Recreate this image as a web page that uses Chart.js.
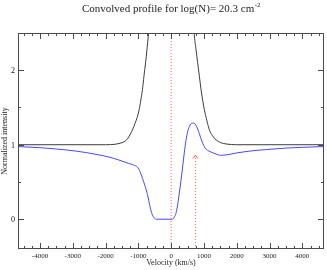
<!DOCTYPE html>
<html>
<head>
<meta charset="utf-8">
<script src="https://cdn.jsdelivr.net/npm/chart.js@4"></script>
<style>
  body { margin: 0; background: #fff; }
  canvas { display: block; }
</style>
</head>
<body>
<canvas id="profileChart" width="327" height="270"></canvas>
<script>
// convolved profile (blue)
const convVelocity = [-4670, -4000, -3200, -2600, -2200, -1900, -1600, -1300, -1150, -1030, -950, -875, -800, -722, -650, -600, -540, -480, -450, 0, 40, 100, 147, 200, 248, 300, 349, 400, 453, 500, 554, 600, 654, 710, 758, 810, 859, 910, 960, 1030, 1113, 1250, 1370, 1500, 1700, 2000, 2400, 2900, 3500, 4000, 4660];
const convIntensity = [0.975, 0.96, 0.93, 0.895, 0.863, 0.835, 0.796, 0.75, 0.728, 0.70, 0.64, 0.55, 0.45, 0.33, 0.18, 0.09, 0.03, 0.005, 0, 0, 0, 0.03, 0.08, 0.2, 0.35, 0.52, 0.70, 0.89, 1.06, 1.17, 1.245, 1.28, 1.29, 1.285, 1.26, 1.21, 1.15, 1.08, 1.02, 0.96, 0.925, 0.895, 0.875, 0.858, 0.865, 0.89, 0.915, 0.935, 0.955, 0.965, 0.975];

// inverse profile (black)
const invVelocity = [-4670, -2000, -1690, -1560, -1434, -1330, -1229, -1170, -1100, -1040, -976, -925, -875, -830, -780, -740, -690, -620, -550, 560, 630, 700, 760, 808, 860, 911, 960, 1012, 1090, 1165, 1260, 1370, 1500, 1676, 2000, 4660];
const invIntensity = [1.0, 1.0, 1.007, 1.02, 1.04, 1.08, 1.156, 1.21, 1.29, 1.36, 1.47, 1.6, 1.74, 1.92, 2.10, 2.27, 2.5, 3.0, 3.6, 3.6, 3.0, 2.5, 2.27, 2.10, 1.92, 1.74, 1.6, 1.47, 1.32, 1.20, 1.12, 1.065, 1.03, 1.01, 1.0, 1.0];

// markers
const zeroLine = [0, 0];
const zeroLineY = [-0.4, 2.5];
const arrowVelocity = [740, 740];
const arrowY = [-0.4, 0.86];

const xTicks = [-4000, -3000, -2000, -1000, 0, 1000, 2000, 3000, 4000];
const yTicks = [0, 1, 2];

function toPoints(xs, ys) {
  return xs.map((x, i) => ({ x: x, y: ys[i] }));
}

const serif = "'Liberation Serif', 'Times New Roman', serif";
const axisColor = "#4a4a4a";
const red = "rgba(255, 70, 70, 0.85)";

// grace style box with inward ticks on all four sides
const frameTicks = {
  id: "frameTicks",
  afterDraw(chart) {
    const c = chart.ctx;
    const a = chart.chartArea;
    const xs = chart.scales.x;
    const ys = chart.scales.y;
    c.save();
    c.strokeStyle = axisColor;
    c.lineWidth = 1;
    c.strokeRect(a.left + 0.5, a.top + 0.5, a.right - a.left - 1, a.bottom - a.top - 1);
    c.beginPath();
    for (let v = -4500; v <= 4500; v += 250) {
      const px = Math.round(xs.getPixelForValue(v)) + 0.5;
      const len = v % 1000 === 0 ? 6 : 3;
      c.moveTo(px, a.bottom);
      c.lineTo(px, a.bottom - len);
      c.moveTo(px, a.top);
      c.lineTo(px, a.top + len);
    }
    for (let v = 0; v <= 2; v += 0.5) {
      const py = Math.round(ys.getPixelForValue(v)) + 0.5;
      const len = v % 1 === 0 ? 6 : 3;
      c.moveTo(a.left, py);
      c.lineTo(a.left + len, py);
      c.moveTo(a.right, py);
      c.lineTo(a.right - len, py);
    }
    c.stroke();

    // y tick labels
    c.fillStyle = "#111";
    c.font = "8px " + serif;
    c.textAlign = "right";
    c.textBaseline = "middle";
    yTicks.forEach((v) => {
      c.fillText(String(v), a.left - 3, Math.round(ys.getPixelForValue(v)) + 0.5);
    });

    // arrow head
    const ax = Math.round(xs.getPixelForValue(arrowVelocity[1])) + 0.5;
    const ay = ys.getPixelForValue(arrowY[1]);
    c.strokeStyle = red;
    c.beginPath();
    c.moveTo(ax - 2.5, ay + 3.5);
    c.lineTo(ax, ay);
    c.lineTo(ax + 2.5, ay + 3.5);
    c.stroke();

    // title with superscript
    const main = "Convolved profile for log(N)= 20.3 cm";
    const sup = "-2";
    c.fillStyle = "#222";
    c.textBaseline = "alphabetic";
    c.font = "11px " + serif;
    const w1 = c.measureText(main).width;
    c.font = "7px " + serif;
    const w2 = c.measureText(sup).width;
    const x0 = (a.left + a.right) / 2 - (w1 + w2) / 2;
    c.font = "11px " + serif;
    c.textAlign = "left";
    c.fillText(main, x0, 12);
    c.font = "7px " + serif;
    c.fillText(sup, x0 + w1 + 0.5, 7);
    c.restore();
  },
};

const ctx = document.getElementById("profileChart").getContext("2d");

const profileChart = new Chart(ctx, {
  type: "line",
  data: {
    datasets: [
      {
        label: "zero",
        data: toPoints(zeroLine, zeroLineY),
        borderColor: red,
        borderWidth: 1,
        borderDash: [1, 2],
        pointRadius: 0,
      },
      {
        label: "arrow",
        data: toPoints(arrowVelocity, arrowY),
        borderColor: red,
        borderWidth: 1,
        borderDash: [1, 2],
        pointRadius: 0,
      },
      {
        label: "inverse",
        data: toPoints(invVelocity, invIntensity),
        borderColor: "#3c3c3c",
        borderWidth: 1,
        pointRadius: 0,
        cubicInterpolationMode: "monotone",
      },
      {
        label: "convolved",
        data: toPoints(convVelocity, convIntensity),
        borderColor: "#4646ff",
        borderWidth: 1,
        pointRadius: 0,
        cubicInterpolationMode: "monotone",
      },
    ],
  },
  options: {
    responsive: false,
    animation: false,
    devicePixelRatio: 1,
    layout: {
      padding: { left: 0, top: 33, right: 3, bottom: 0 },
    },
    plugins: {
      legend: { display: false },
      tooltip: { enabled: false },
    },
    scales: {
      x: {
        type: "linear",
        min: -4670,
        max: 4660,
        grid: { display: false, drawTicks: false },
        border: { display: false },
        afterBuildTicks: (scale) => {
          scale.ticks = xTicks.map((v) => ({ value: v }));
        },
        afterFit: (scale) => {
          scale.height = 21;
        },
        ticks: {
          padding: 3,
          maxRotation: 0,
          autoSkip: false,
          font: { family: serif, size: 7 },
          color: "#222",
          callback: (v) => String(v),
        },
        title: {
          display: true,
          text: "Velocity (km/s)",
          font: { family: serif, size: 8 },
          color: "#222",
          padding: { top: 0, bottom: 2 },
        },
      },
      y: {
        type: "linear",
        min: -0.4,
        max: 2.5,
        grid: { display: false, drawTicks: false },
        border: { display: false },
        afterBuildTicks: (scale) => {
          scale.ticks = yTicks.map((v) => ({ value: v }));
        },
        afterFit: (scale) => {
          scale.width = 18;
        },
        ticks: {
          display: false,
        },
        title: {
          display: true,
          text: "Normalized intensity",
          font: { family: serif, size: 8 },
          color: "#222",
          padding: { top: 0, bottom: 0 },
        },
      },
    },
  },
  plugins: [frameTicks],
});
</script>
</body>
</html>
